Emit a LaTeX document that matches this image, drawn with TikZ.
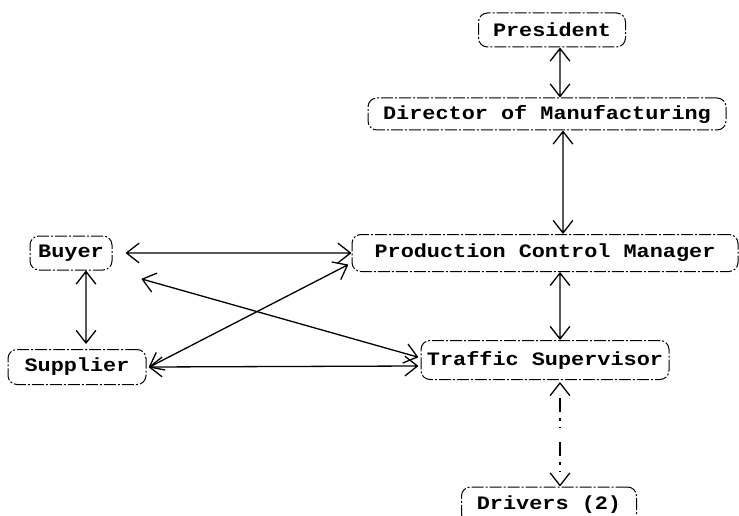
\documentclass[tikz,border=0pt]{standalone}
\usepackage{fontspec}
\newfontfamily\tw[FakeStretch=1.15]{Liberation Mono}
\usetikzlibrary{calc}
% open V heads at both ends of a connector
\tikzset{
  vheads/.style={to path={
    ($(\tikztotarget)!16pt!38:(\tikztostart)$) -- (\tikztotarget)
      -- ($(\tikztotarget)!16pt!-38:(\tikztostart)$)
    ($(\tikztostart)!16pt!38:(\tikztotarget)$) -- (\tikztostart)
      -- ($(\tikztostart)!16pt!-38:(\tikztotarget)$)}},
  link/.style={line width=1.3pt, line join=round, to path={
    (\tikztostart) -- (\tikztotarget)
    ($(\tikztotarget)!16pt!38:(\tikztostart)$) -- (\tikztotarget)
      -- ($(\tikztotarget)!16pt!-38:(\tikztostart)$)
    ($(\tikztostart)!16pt!38:(\tikztotarget)$) -- (\tikztostart)
      -- ($(\tikztostart)!16pt!-38:(\tikztotarget)$)}}
}
\begin{document}
\begin{tikzpicture}[x=1pt,y=-1pt,
  unit/.style={draw, rounded corners=9pt, line width=1pt,
    dash pattern=on 12pt off 2pt on 2pt off 2pt,
    inner sep=0pt, font=\tw\bfseries\fontsize{19}{22}\selectfont}]
\useasboundingbox (0,0) rectangle (739,516);

% organisational units
\node[unit, minimum width=147pt, minimum height=34pt] (pres) at (552,30) {President};
\node[unit, minimum width=358pt, minimum height=32pt] (dir) at (547,114) {Director of Manufacturing};
\node[unit, minimum width=386pt, minimum height=37pt] (pcm) at (545,253) {Production Control Manager};
\node[unit, minimum width=82pt, minimum height=34pt] (buyer) at (71,253) {Buyer};
\node[unit, minimum width=138pt, minimum height=35pt] (sup) at (77,367) {Supplier};
\node[unit, minimum width=248pt, minimum height=39pt] (ts) at (545,360) {Traffic Supervisor};
\node[unit, minimum width=175pt, minimum height=36pt] (drv) at (549,505) {Drivers (2)};

% connector end points
\coordinate (pd1) at ([xshift=8pt,yshift=-1pt]pres.south);
\coordinate (pd2) at ([xshift=13pt,yshift=1pt]dir.north);
\coordinate (dp1) at ([xshift=16pt,yshift=-1pt]dir.south);
\coordinate (dp2) at ([xshift=18pt,yshift=1pt]pcm.north);
\coordinate (pt1) at ([xshift=15pt,yshift=-1pt]pcm.south);
\coordinate (pt2) at ([xshift=15pt,yshift=1pt]ts.north);
\coordinate (td1) at ([xshift=15pt,yshift=-3pt]ts.south);
\coordinate (td2) at ([xshift=11pt,yshift=1pt]drv.north);
\coordinate (bp1) at ([xshift=14pt]buyer.east);
\coordinate (bp2) at ([xshift=-1pt]pcm.west);
\coordinate (bs1) at ([xshift=15pt,yshift=-1pt]buyer.south);
\coordinate (bs2) at ([xshift=9pt,yshift=6pt]sup.north);
\coordinate (bt1) at ($(buyer.south east)!31pt!(ts.west)$);
\coordinate (bt2) at ([xshift=-3pt,yshift=3pt]ts.west);
\coordinate (sp1) at ([xshift=3pt]sup.east);
\coordinate (sp2) at ([xshift=-4pt,yshift=-12pt]pcm.west);
\coordinate (st1) at ([xshift=3pt]sup.east);
\coordinate (st2) at ([xshift=-3pt,yshift=-6pt]ts.west);

% chain of command
\draw[link] (pd1) to (pd2);
\draw[link] (dp1) to (dp2);
\draw[link] (pt1) to (pt2);
\draw[line width=1.3pt, dash pattern=on 1pt off 14pt on 14pt off 6pt on 3pt off 6pt]
  (td1) -- (td2);
\draw[line width=1.3pt, line join=round, vheads] (td1) to (td2);

% lateral communication
\draw[link] (bp1) to (bp2);
\draw[link] (bs1) to (bs2);
\draw[link] (bt1) to (bt2);
\draw[link] (sp1) to (sp2);
\draw[link] (st1) to (st2);
\end{tikzpicture}
\end{document}
